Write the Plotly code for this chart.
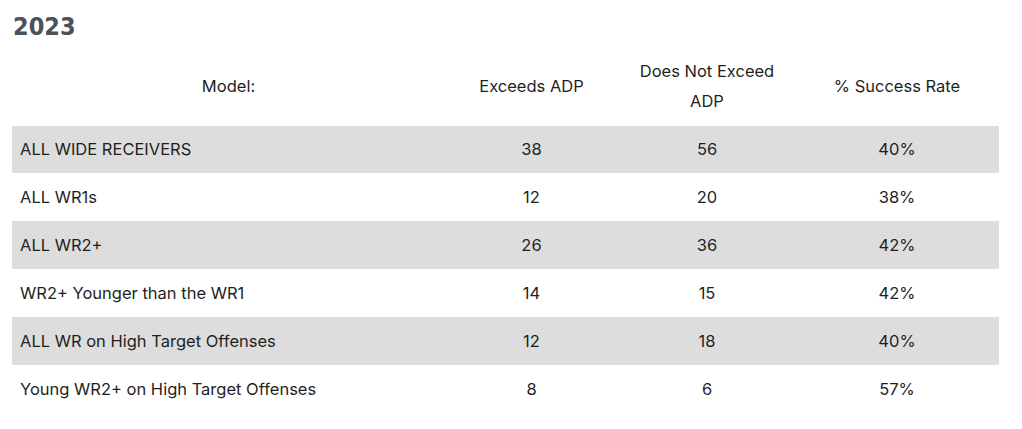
import plotly.graph_objects as go

models = ["ALL WIDE RECEIVERS", "ALL WR1s", "ALL WR2+", "WR2+ Younger than the WR1",
          "ALL WR on High Target Offenses", "Young WR2+ on High Target Offenses"]
exceeds = [38, 12, 26, 14, 12, 8]
not_exceed = [56, 20, 36, 15, 18, 6]
success = ["40%", "38%", "42%", "42%", "40%", "57%"]
headers = ["Model:", "Exceeds ADP", ["Does Not Exceed", "ADP"], "% Success Rate"]

W, H = 1022, 429
OFF = 8  # page body margin
FONT = dict(family="Inter", size=16.5, color="#1f1f1f")
col_w = [433, 173, 178, 202]
left, right = 12, 998


def px_x(v):
    return (v - OFF) / W


def px_y(v):
    return 1 - (v - OFF) / H


n = len(models)
row_fill = ["#dddddd" if i % 2 == 0 else "#ffffff" for i in range(n)]
blank = [""] * n
clear = "rgba(0,0,0,0)"

fig = go.Figure()

# background stripes
fig.add_trace(go.Table(
    domain=dict(x=[px_x(left), px_x(right)], y=[px_y(413), px_y(55)]),
    columnwidth=col_w,
    header=dict(values=["", "", "", ""], height=70, fill_color="white", line_color="white"),
    cells=dict(values=[blank] * 4, height=48,
               fill_color=[row_fill] * 4, line_color=[row_fill] * 4),
))

# single-line headers and body text
fig.add_trace(go.Table(
    domain=dict(x=[px_x(left), px_x(right)], y=[px_y(423), px_y(72)]),
    columnwidth=col_w,
    header=dict(values=[h if isinstance(h, str) else "" for h in headers],
                align="center", height=63, fill_color=clear, line_color=clear, font=FONT),
    cells=dict(values=[models, exceeds, not_exceed, success],
               align=["left", "center", "center", "center"], height=48,
               fill_color=clear, line_color=clear, font=FONT),
))

# two-line header
two = [h if isinstance(h, list) else ["", ""] for h in headers]
fig.add_trace(go.Table(
    domain=dict(x=[px_x(left), px_x(right)], y=[px_y(120), px_y(57)]),
    columnwidth=col_w,
    header=dict(values=two, align="center", height=30,
                fill_color=clear, line_color=clear, font=FONT),
    cells=dict(values=[[], [], [], []], fill_color=clear, line_color=clear),
))

fig.add_annotation(
    text="<b>2023</b>", x=px_x(11), y=px_y(26), xref="paper", yref="paper",
    xanchor="left", yanchor="middle", showarrow=False,
    font=dict(family="'Liberation Sans Narrow', 'Arial Narrow', 'DejaVu Sans Condensed', sans-serif",
              size=25, color="#4d5158"),
)

fig.update_layout(width=W, height=H, margin=dict(l=0, r=0, t=0, b=0),
                  paper_bgcolor="white", plot_bgcolor="white")
fig.write_html("out.html")
